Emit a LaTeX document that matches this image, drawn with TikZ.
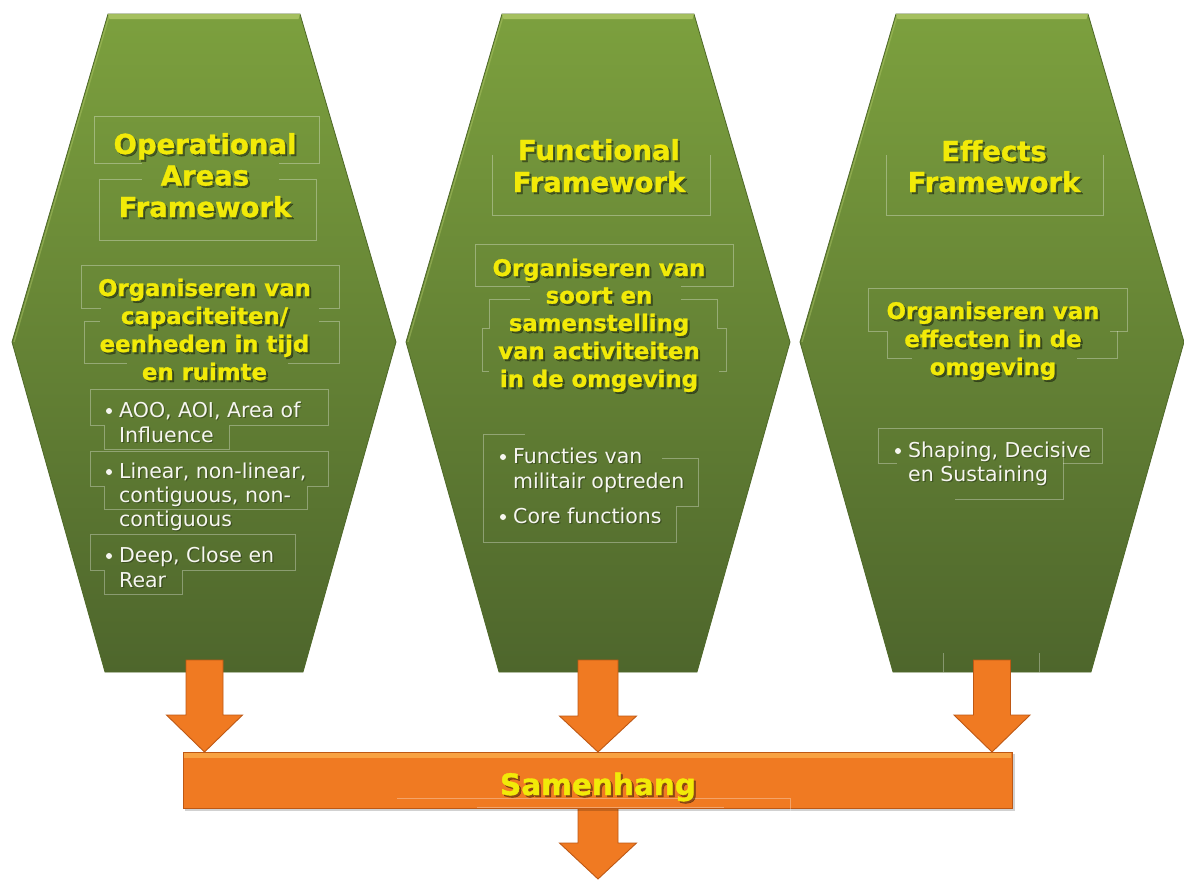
\documentclass[tikz,border=0pt]{standalone}
\usepackage{fontspec}
\setmainfont{DejaVu Sans}[BoldFeatures={FakeBold=1.2}]
\usetikzlibrary{calc}
\definecolor{ytxt}{RGB}{242,234,8}
\definecolor{wtxt}{RGB}{246,246,240}
\definecolor{gtop}{RGB}{124,160,62}
\definecolor{gmid}{RGB}{104,136,52}
\definecolor{gbot}{RGB}{78,102,44}
\definecolor{gedge}{RGB}{78,104,40}
\definecolor{glight}{RGB}{176,200,104}
\definecolor{orng}{RGB}{240,122,34}
\definecolor{orngd}{RGB}{190,88,20}
\definecolor{orngl}{RGB}{250,170,72}
\tikzset{
  hexfill/.style={top color=gtop, middle color=gmid, bottom color=gbot, draw=gedge, line width=0.8pt},
  ghost/.style={draw=white, draw opacity=0.32, line width=0.7pt},
  arrowfill/.style={fill=orng, draw=orngd, line width=0.9pt, line join=miter},
  ttl/.style={anchor=base, inner sep=0pt, text=ytxt},
  ttlsh/.style={anchor=base, inner sep=0pt, text=black, text opacity=0.4},
  blt/.style={anchor=base west, inner sep=0pt, text=wtxt, font=\fontsize{20.5}{20.5}\selectfont},
  bltsh/.style={anchor=base west, inner sep=0pt, text=black, text opacity=0.3, font=\fontsize{20.5}{20.5}\selectfont},
}
\newcommand\yline[5]{%
  \node[ttlsh, font=\fontsize{#4}{#4}\bfseries] at (#2+2,#3+2) {#5};
  \node[ttl, font=\fontsize{#4}{#4}\bfseries] (#1) at (#2,#3) {#5};}
\newcommand\wline[4]{%
  \node[bltsh] at (#2+1.2,#3+1.2) {#4};
  \node[blt] (#1) at (#2,#3) {#4};}
\newcommand\bdot[2]{\fill[wtxt] (#1,#2) circle (3);}
\newcommand\hexa[1]{%
  \path[hexfill] (#1-96,14) -- (#1+96,14) -- (#1+192,342) -- (#1+99,672) -- (#1-99,672) -- (#1-192,342) -- cycle;
  \fill[glight, opacity=0.8] (#1-96,14) -- (#1+96,14) -- (#1+94.5,19) -- (#1-94.5,19) -- cycle;
  \draw[glight, opacity=0.45, line width=1.4pt] (#1-95,16) -- (#1-190,342);}
\newcommand\dnarrow[5]{%
  \filldraw[arrowfill] ($(#1)+(-#3,0)$) -- ($(#1)+(#3,0)$) -- ($(#2)+(#3,-#5)$) -- ($(#2)+(#4,-#5)$) -- (#2) -- ($(#2)+(-#4,-#5)$) -- ($(#2)+(-#3,-#5)$) -- cycle;}
\begin{document}
\begin{tikzpicture}[x=1pt,y=-1pt]
\useasboundingbox (0,0) rectangle (1184,879);
\fill[white] (0,0) rectangle (1184,879);

% hexagons
\hexa{204}
\hexa{598}
\hexa{992}

% faint frames
\draw[ghost] (142,163) -- (94,163) -- (94,116) -- (319,116) -- (319,163) -- (279,163);
\draw[ghost] (142,179) -- (99,179) -- (99,240) -- (316,240) -- (316,179) -- (279,179);
\draw[ghost] (101,308) -- (81,308) -- (81,265) -- (339,265) -- (339,308) -- (319,308);
\draw[ghost] (100,321) -- (84,321) -- (84,363) -- (127,363);
\draw[ghost] (288,363) -- (339,363) -- (339,321) -- (319,321);
\draw[ghost] (90,389) -- (328,389) -- (328,425) -- (229,425) -- (229,449) -- (104,449) -- (104,425) -- (90,425) -- cycle;
\draw[ghost] (90,451) -- (328,451) -- (328,486) -- (307,486) -- (307,509) -- (104,509) -- (104,486) -- (90,486) -- cycle;
\draw[ghost] (90,534) -- (295,534) -- (295,570) -- (182,570) -- (182,594) -- (104,594) -- (104,570) -- (90,570) -- cycle;
\draw[ghost] (492,155) -- (492,215) -- (710,215) -- (710,155);
\draw[ghost] (530,286) -- (475,286) -- (475,244) -- (733,244) -- (733,286) -- (681,286);
\draw[ghost] (530,299) -- (489,299) -- (489,328) -- (482,328) -- (482,371) -- (489,371);
\draw[ghost] (681,299) -- (717,299) -- (717,328) -- (726,328) -- (726,371) -- (719,371);
\draw[ghost] (525,434) -- (483,434) -- (483,542) -- (676,542) -- (676,506) -- (698,506) -- (698,458) -- (662,458);
\draw[ghost] (886,155) -- (886,215) -- (1103,215) -- (1103,155);
\draw[ghost] (887,331) -- (868,331) -- (868,288) -- (1127,288) -- (1127,331) -- (1110,331);
\draw[ghost] (887,331) -- (887,358) -- (912,358);
\draw[ghost] (1117,331) -- (1117,358) -- (1077,358);
\draw[ghost] (897,463) -- (878,463) -- (878,428) -- (1102,428) -- (1102,463) -- (1063,463);
\draw[ghost] (955,499) -- (1063,499) -- (1063,452);
\draw[ghost] (943,653) -- (943,672);
\draw[ghost] (1039,653) -- (1039,672);

% hexagon 1 text
\yline{t1a}{205}{154}{27.5}{Operational}
\yline{t1b}{205}{185.5}{27.5}{Areas}
\yline{t1c}{205}{217}{27.5}{Framework}
\yline{s1a}{204.5}{296}{22.8}{Organiseren van}
\yline{s1b}{204.5}{324}{22.8}{capaciteiten/}
\yline{s1c}{204.5}{352}{22.8}{eenheden in tijd}
\yline{s1d}{204.5}{380}{22.8}{en ruimte}
\bdot{109}{411}
\wline{b1a}{119}{417}{AOO, AOI, Area of}
\wline{b1b}{119}{442}{Influence}
\bdot{109}{472}
\wline{b1c}{119}{478}{Linear, non-linear,}
\wline{b1d}{119}{502}{contiguous, non-}
\wline{b1e}{119}{526}{contiguous}
\bdot{109}{556}
\wline{b1f}{119}{562}{Deep, Close en}
\wline{b1g}{119}{587}{Rear}

% hexagon 2 text
\yline{t2a}{599}{160}{27.5}{Functional}
\yline{t2b}{599}{192}{27.5}{Framework}
\yline{s2a}{599}{276}{22.8}{Organiseren van}
\yline{s2b}{599}{303.5}{22.8}{soort en}
\yline{s2c}{599}{331}{22.8}{samenstelling}
\yline{s2d}{599}{359}{22.8}{van activiteiten}
\yline{s2e}{599}{387}{22.8}{in de omgeving}
\bdot{503}{457}
\wline{b2a}{513}{463}{Functies van}
\wline{b2b}{513}{488}{militair optreden}
\bdot{503}{517}
\wline{b2c}{513}{523}{Core functions}

% hexagon 3 text
\yline{t3a}{994}{161}{27.5}{Effects}
\yline{t3b}{994}{192}{27.5}{Framework}
\yline{s3a}{993}{319}{22.8}{Organiseren van}
\yline{s3b}{993}{347}{22.8}{effecten in de}
\yline{s3c}{993}{375}{22.8}{omgeving}
\bdot{898}{451}
\wline{b3a}{908}{457}{Shaping, Decisive}
\wline{b3b}{908}{481}{en Sustaining}

% connectors
\coordinate (h1s) at (204.5,660);
\coordinate (h2s) at (598,660);
\coordinate (h3s) at (992,660);
\coordinate (bar1) at (204.5,752);
\coordinate (bar2) at (598,752);
\coordinate (bar3) at (992,752);
\coordinate (barb) at (598,808);
\coordinate (outp) at (598,879);
\dnarrow{h1s}{bar1}{18.5}{38}{37}
\dnarrow{h2s}{bar2}{20}{38.5}{36}
\dnarrow{h3s}{bar3}{18.5}{38}{37}
\dnarrow{barb}{outp}{20}{38.5}{36}

% bar
\fill[black, opacity=0.18] (185,754) rectangle (1015,811);
\path[fill=orng, draw=orngd, line width=0.9pt] (183,752) rectangle (1012,808);
\fill[orngl, opacity=0.85] (184,753) rectangle (1011,757.5);
\draw[ghost] (397,798) -- (790,798) -- (790,811);
\draw[ghost] (477,807) -- (724,807);
\yline{sam}{598}{795}{29.5}{Samenhang}
\end{tikzpicture}
\end{document}
